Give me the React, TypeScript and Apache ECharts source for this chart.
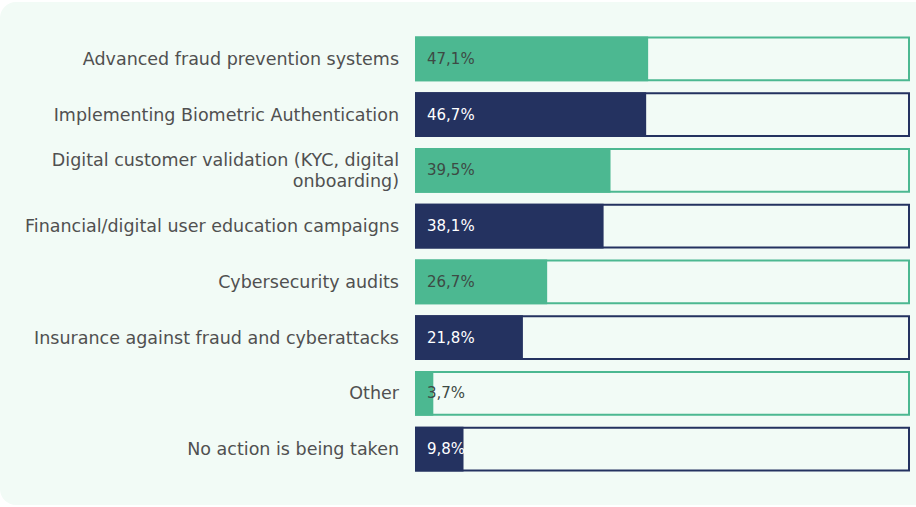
import React, { useEffect, useRef } from "react";
import * as echarts from "echarts";

const categories = [
  "Advanced fraud prevention systems",
  "Implementing Biometric Authentication",
  "Digital customer validation (KYC, digital\nonboarding)",
  "Financial/digital user education campaigns",
  "Cybersecurity audits",
  "Insurance against fraud and cyberattacks",
  "Other",
  "No action is being taken",
];
const values = [47.1, 46.7, 39.5, 38.1, 26.7, 21.8, 3.7, 9.8];
const fullValue = 100;

const GREEN = "#4cb891";
const NAVY = "#243260";
const BG = "#f2fbf6";

export default function App() {
  const ref = useRef<HTMLDivElement>(null);
  useEffect(() => {
    if (!ref.current) return;
    const chart = echarts.init(ref.current, undefined, { renderer: "svg" });
    const colorAt = (i: number) => (i % 2 === 0 ? GREEN : NAVY);
    chart.setOption({
      animation: false,
      backgroundColor: "#ffffff",
      textStyle: { fontFamily: "DejaVu Sans" },
      graphic: [
        {
          type: "rect",
          z: -10,
          silent: true,
          shape: { x: 0, y: 2, width: 940, height: 503, r: 16 },
          style: { fill: BG },
        },
      ],
      grid: { left: 415, right: 6, top: 31, bottom: 30 },
      xAxis: {
        type: "value",
        min: 0,
        max: 100,
        show: false,
      },
      yAxis: {
        type: "category",
        inverse: true,
        data: categories,
        axisLine: { show: false },
        axisTick: { show: false },
        splitLine: { show: false },
        axisLabel: {
          margin: 16,
          color: "#505050",
          fontSize: 17.5,
          lineHeight: 21,
          align: "right",
          fontFamily: "DejaVu Sans",
        },
      },
      series: [
        {
          type: "bar",
          silent: true,
          barCategoryGap: "20%",
          barGap: "-100%",
          data: categories.map((_, i) => ({
            value: fullValue,
            itemStyle: { color: BG, borderColor: colorAt(i), borderWidth: 2 },
          })),
          label: { show: false },
          z: 1,
        },
        {
          type: "bar",
          barCategoryGap: "20%",
          barGap: "-100%",
          z: 2,
          data: values.map((v, i) => ({
            value: v,
            itemStyle: { color: colorAt(i) },
            label: { color: i % 2 === 0 ? "#3d4a44" : "#ffffff" },
          })),
          label: {
            show: true,
            position: "insideLeft",
            distance: 12,
            fontSize: 15,
            fontFamily: "DejaVu Sans",
            formatter: (p: any) => String(p.value).replace(".", ",") + "%",
          },
        },
      ],
    });
    return () => chart.dispose();
  }, []);
  return (
    <div
      ref={ref}
      style={{ position: "fixed", left: 0, top: 0, width: 916, height: 507 }}
    />
  );
}
